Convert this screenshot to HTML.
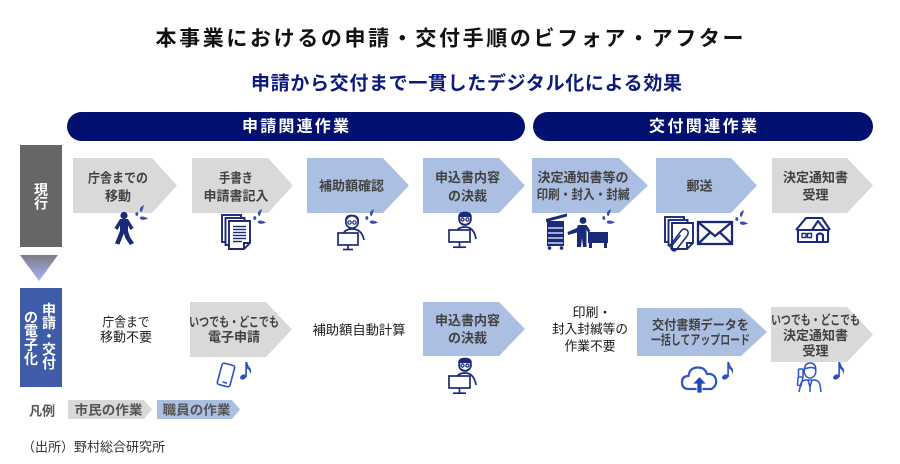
<!DOCTYPE html>
<html><head><meta charset="utf-8"><style>
html,body{margin:0;padding:0;background:#fff;}
svg{display:block;}
text{font-family:"Liberation Sans","Noto Sans CJK JP",sans-serif;}
</style></head><body>
<svg width="900" height="464" viewBox="0 0 900 464" xmlns="http://www.w3.org/2000/svg">
<defs>
<linearGradient id="tg" x1="0" y1="0" x2="0" y2="1"><stop offset="0" stop-color="#7c7c84"/><stop offset="1" stop-color="#a9b3fc"/></linearGradient>
</defs>
<rect width="900" height="464" fill="#fff"/>
<!-- titles -->
<text x="155.5" y="39" font-size="21" font-weight="700" fill="#111" dominant-baseline="central" textLength="588" lengthAdjust="spacing">本事業におけるの申請・交付手順のビフォア・アフター</text>
<text x="251" y="84" font-size="19" font-weight="700" fill="#0c1a7c" dominant-baseline="central" textLength="431" lengthAdjust="spacing">申請から交付まで一貫したデジタル化による効果</text>
<!-- pills -->
<rect x="67" y="112" width="458" height="29" rx="14.5" fill="#02106f"/>
<rect x="533" y="112" width="340" height="29" rx="14.5" fill="#02106f"/>
<text x="242" y="127" font-size="16" font-weight="700" fill="#fff" dominant-baseline="central" textLength="107" lengthAdjust="spacing">申請関連作業</text>
<text x="649" y="127" font-size="16" font-weight="700" fill="#fff" dominant-baseline="central" textLength="108" lengthAdjust="spacing">交付関連作業</text>
<!-- left labels -->
<rect x="20" y="145" width="42" height="102" fill="#666"/>
<g font-size="14" font-weight="700" fill="#fff" text-anchor="middle" dominant-baseline="central">
<text x="41" y="190">現</text><text x="41" y="203.5">行</text>
</g>
<polygon points="20,255 58,255 39,281" fill="url(#tg)"/>
<rect x="20" y="288" width="42" height="99" fill="#3e5ca8"/>
<g font-size="14" font-weight="700" fill="#fff" text-anchor="middle" dominant-baseline="central">
<text x="49" y="310">申</text><text x="49" y="323">請</text><text x="49" y="336.5">・</text><text x="49" y="349.5">交</text><text x="49" y="363.5">付</text>
<text x="31" y="317.5">の</text><text x="31" y="331">電</text><text x="31" y="345">子</text><text x="31" y="359">化</text>
</g>
<!-- arrows row 1 -->
<polygon points="73,158 152,158 177,185.5 152,213 73,213" fill="#d9d9d9"/>
<polygon points="192,158 268,158 293,185.5 268,213 192,213" fill="#d9d9d9"/>
<polygon points="307,158 383,158 409,185.5 383,213 307,213" fill="#abbfe2"/>
<polygon points="423,158 499,158 525,185.5 499,213 423,213" fill="#abbfe2"/>
<polygon points="532,158 619,158 648,185.5 619,213 532,213" fill="#abbfe2"/>
<polygon points="656,158 731,158 757,185.5 731,213 656,213" fill="#abbfe2"/>
<polygon points="772,158 847,158 873,185.5 847,213 772,213" fill="#d9d9d9"/>
<!-- arrows row 2 -->
<polygon points="190,302 266,302 292,329.5 266,357 190,357" fill="#d9d9d9"/>
<polygon points="423,302 499,302 525,329 499,356 423,356" fill="#abbfe2"/>
<polygon points="637,308 741,308 767,332 741,356 637,356" fill="#abbfe2"/>
<polygon points="771,307 847,307 873,334.5 847,362 771,362" fill="#d9d9d9"/>
<!-- arrow texts -->
<g font-size="13" font-weight="700" fill="#424242" text-anchor="middle" dominant-baseline="central">
<text x="118" y="178" textLength="60" lengthAdjust="spacingAndGlyphs">庁舎までの</text>
<text x="118" y="196">移動</text>
<text x="236" y="178" textLength="34" lengthAdjust="spacingAndGlyphs">手書き</text>
<text x="236" y="196">申請書記入</text>
<text x="351.5" y="186">補助額確認</text>
<text x="467.5" y="177.5">申込書内容</text>
<text x="467.5" y="196">の決裁</text>
<text x="583" y="177.5" textLength="91" lengthAdjust="spacingAndGlyphs">決定通知書等の</text>
<text x="583" y="194.5" textLength="93" lengthAdjust="spacingAndGlyphs">印刷・封入・封緘</text>
<text x="699.5" y="186">郵送</text>
<text x="815.5" y="177.5">決定通知書</text>
<text x="815.5" y="195">受理</text>
<text x="234" y="322" textLength="90" lengthAdjust="spacingAndGlyphs">いつでも・どこでも</text>
<text x="234" y="337">電子申請</text>
<text x="467.5" y="320.5">申込書内容</text>
<text x="467.5" y="338">の決裁</text>
<text x="700.5" y="325" textLength="97" lengthAdjust="spacingAndGlyphs">交付書類データを</text>
<text x="700.5" y="340" textLength="99" lengthAdjust="spacingAndGlyphs">一括してアップロード</text>
<text x="815.5" y="320" textLength="89" lengthAdjust="spacingAndGlyphs">いつでも・どこでも</text>
<text x="815.5" y="335.5">決定通知書</text>
<text x="815.5" y="351">受理</text>
</g>
<!-- plain texts row 2 -->
<g font-size="13" fill="#1a1a1a" text-anchor="middle" dominant-baseline="central">
<text x="126" y="322" textLength="47" lengthAdjust="spacingAndGlyphs">庁舎まで</text>
<text x="126" y="337">移動不要</text>
<text x="359" y="330" textLength="93" lengthAdjust="spacingAndGlyphs">補助額自動計算</text>
<text x="592" y="312.5">印刷・</text>
<text x="590" y="329" textLength="76" lengthAdjust="spacingAndGlyphs">封入封緘等の</text>
<text x="590" y="346" textLength="51" lengthAdjust="spacingAndGlyphs">作業不要</text>
</g>
<!-- legend -->
<text x="42" y="411" font-size="13" font-weight="700" fill="#555" text-anchor="middle" dominant-baseline="central">凡例</text>
<polygon points="68,400 144,400 152,409.5 144,419 68,419" fill="#d9d9d9"/>
<polygon points="157,400 232,400 240,409.5 232,419 157,419" fill="#abbfe2"/>
<g font-size="13" font-weight="700" fill="#555" text-anchor="middle" dominant-baseline="central">
<text x="108.5" y="410" textLength="68" lengthAdjust="spacingAndGlyphs">市民の作業</text>
<text x="196.5" y="410" textLength="68" lengthAdjust="spacingAndGlyphs">職員の作業</text>
</g>
<text x="22" y="447" font-size="13" fill="#333" dominant-baseline="central">（出所）野村総合研究所</text>

<!-- ICONS -->
<!-- sweat drops -->
<g fill="#3d4fa3">
<g transform="translate(135,205)"><path d="M5 6 Q4 2 9 0 Q8 4 7 6.5 Q6 7.5 5 6 Z"/><path d="M5 12 Q8 10.5 13 13.5 Q9 15.5 6 14.5 Q4.5 13.5 5 12 Z"/><ellipse cx="1.8" cy="9" rx="1.5" ry="1.9"/></g>
<g transform="translate(253,209)"><path d="M5 6 Q4 2 9 0 Q8 4 7 6.5 Q6 7.5 5 6 Z"/><path d="M5 12 Q8 10.5 13 13.5 Q9 15.5 6 14.5 Q4.5 13.5 5 12 Z"/><ellipse cx="1.8" cy="9" rx="1.5" ry="1.9"/></g>
<g transform="translate(365,209)"><path d="M5 6 Q4 2 9 0 Q8 4 7 6.5 Q6 7.5 5 6 Z"/><path d="M5 12 Q8 10.5 13 13.5 Q9 15.5 6 14.5 Q4.5 13.5 5 12 Z"/><ellipse cx="1.8" cy="9" rx="1.5" ry="1.9"/></g>
<g transform="translate(602,209)"><path d="M5 6 Q4 2 9 0 Q8 4 7 6.5 Q6 7.5 5 6 Z"/><path d="M5 12 Q8 10.5 13 13.5 Q9 15.5 6 14.5 Q4.5 13.5 5 12 Z"/><ellipse cx="1.8" cy="9" rx="1.5" ry="1.9"/></g>
<g transform="translate(735,210)"><path d="M5 6 Q4 2 9 0 Q8 4 7 6.5 Q6 7.5 5 6 Z"/><path d="M5 12 Q8 10.5 13 13.5 Q9 15.5 6 14.5 Q4.5 13.5 5 12 Z"/><ellipse cx="1.8" cy="9" rx="1.5" ry="1.9"/></g>
</g>
<!-- walking person -->
<g fill="#1b2a78">
<circle cx="124" cy="215.5" r="3.6"/>
<path d="M120 219 L128 219 L133.5 228 L130.5 230 L128 225.5 L128 232.5 L120 232.5 L120 225.5 L117.5 230 L114.5 228 Z"/>
<path d="M120 231 L125 231 L122 238 L119.5 244.5 L115 243.5 Z"/>
<path d="M123 231 L128 231 L130 237 L134 243 L130 245 L125.5 238.5 Z"/>
</g>
<!-- document stack -->
<g stroke="#1b2a78" stroke-width="1.9" fill="#fff">
<rect x="222" y="215" width="19" height="27"/>
<rect x="225.5" y="218" width="19" height="27"/>
<path d="M229 221 L250 221 L250 243 L244 249 L229 249 Z"/>
<path d="M244 249 L244 243 L250 243" fill="none"/>
</g>
<g stroke="#1b2a78" stroke-width="1.4">
<line x1="233" y1="226.5" x2="246" y2="226.5"/><line x1="233" y1="229.5" x2="246" y2="229.5"/><line x1="233" y1="232.5" x2="246" y2="232.5"/><line x1="233" y1="235.5" x2="246" y2="235.5"/><line x1="233" y1="238.5" x2="246" y2="238.5"/><line x1="233" y1="241.5" x2="242" y2="241.5"/>
</g>
<!-- woman at computer -->
<g stroke="#1b2a78" stroke-width="1.7" fill="#fff">
<path d="M342 238 Q343 229 352 229 Q362 229 364 240" fill="none"/>
<circle cx="352" cy="222" r="6.2"/>
<path d="M345.8 221 Q346 215 352 215.5 Q358 215.5 358.2 221" fill="none"/>
<circle cx="349.5" cy="222.5" r="1.7" stroke-width="1.2"/><circle cx="354.5" cy="222.5" r="1.7" stroke-width="1.2"/>
<rect x="338" y="233" width="20" height="12"/>
<line x1="348" y1="245" x2="348" y2="249"/><line x1="343" y1="249.5" x2="353" y2="249.5"/>
</g>
<!-- man at computer (row1 and row2) -->
<g stroke="#1b2a78" stroke-width="1.7" fill="#fff">
<path d="M455 236 Q456 227 465 227 Q474 227 476 239" fill="none"/>
<circle cx="465" cy="219" r="6"/>
<path d="M459 217 Q459 212.5 465 212.5 Q471 212.5 471 217" fill="#1b2a78"/>
<circle cx="462.5" cy="219.5" r="1.6" stroke-width="1.2"/><circle cx="467.5" cy="219.5" r="1.6" stroke-width="1.2"/>
<path d="M461.5 223 Q465 226 468.5 223" fill="none" stroke-width="1.3"/>
<rect x="449" y="230" width="21" height="12"/>
<line x1="459.5" y1="242" x2="459.5" y2="246.5"/><line x1="453" y1="247.2" x2="466" y2="247.2"/>
</g>
<g transform="translate(0,146)" stroke="#1b2a78" stroke-width="1.7" fill="#fff">
<path d="M455 236 Q456 227 465 227 Q474 227 476 239" fill="none"/>
<circle cx="465" cy="219" r="6"/>
<path d="M459 217 Q459 212.5 465 212.5 Q471 212.5 471 217" fill="#1b2a78"/>
<circle cx="462.5" cy="219.5" r="1.6" stroke-width="1.2"/><circle cx="467.5" cy="219.5" r="1.6" stroke-width="1.2"/>
<path d="M461.5 223 Q465 226 468.5 223" fill="none" stroke-width="1.3"/>
<rect x="449" y="230" width="21" height="12"/>
<line x1="459.5" y1="242" x2="459.5" y2="246.5"/><line x1="453" y1="247.2" x2="466" y2="247.2"/>
</g>
<!-- copier + person + table -->
<g fill="#1b2a78">
<path d="M546 219 L567 213.5 L567 216.5 L546 222 Z"/>
<rect x="547" y="221" width="17" height="25"/>
<circle cx="549.5" cy="248" r="1.8"/><circle cx="561.5" cy="248" r="1.8"/>
<circle cx="583" cy="220.5" r="3.4"/>
<path d="M578 225 L586.5 225 L590.5 231 L588 232.5 L586.5 229.5 L586.5 247 L583 247 L582 238 L581 247 L577 247 L577 232.5 L568 235 L567.5 232 L577 228 Z"/>
<rect x="588" y="232" width="20" height="11"/>
<rect x="589" y="243" width="3" height="5"/><rect x="604" y="243" width="3" height="5"/>
</g>
<g stroke="#fff" stroke-width="1.2">
<line x1="548" y1="228" x2="563" y2="228"/><line x1="548" y1="233" x2="563" y2="233"/><line x1="548" y1="238" x2="563" y2="238"/><line x1="548" y1="243" x2="563" y2="243"/>
</g>
<!-- docs with paperclip -->
<g stroke="#1b2a78" stroke-width="1.9" fill="#fff">
<rect x="665" y="217" width="19" height="25"/>
<rect x="668.5" y="220" width="19" height="25"/>
<path d="M672 223 L693 223 L693 243 L687 249 L672 249 Z"/>
<path d="M687 249 L687 243 L693 243" fill="none"/>
<path d="M669 247 L681 231 Q684 227.5 687 230 Q689.5 232.5 687 236 L676.5 249.5 Q674.5 252 672 250 Q670 248 672 245.5 L680.5 235" fill="none" stroke-width="1.5"/>
</g>
<!-- envelope -->
<g stroke="#1b2a78" stroke-width="2.3" fill="#fff">
<rect x="698" y="222" width="34" height="22"/>
<path d="M698 222 L715 236 L732 222" fill="none"/>
<path d="M698 244 L710 232.5 M732 244 L720 232.5" fill="none"/>
</g>
<!-- house -->
<g stroke="#1b2a78" stroke-width="2.1" fill="#fff" stroke-linejoin="round">
<path d="M796 230 L806 218 L822 218 L830 230"/>
<path d="M812 230 L818 221 L825 230" fill="none"/>
<rect x="798" y="230" width="30" height="12"/>
<path d="M817 242 L817 235 Q820 232 823 235 L823 242" fill="none"/>
<rect x="802" y="233.5" width="4" height="4" stroke-width="1.4"/><rect x="807.5" y="233.5" width="4" height="4" stroke-width="1.4"/>
</g>
<!-- phone row 2 -->
<g stroke="#2b55c8" stroke-width="1.6" fill="#fff">
<rect x="219.5" y="364" width="13" height="22" rx="2" transform="rotate(15 226 375)"/>
<line x1="222.5" y1="382" x2="227" y2="383.2"/>
</g>
<!-- cloud -->
<g stroke="#2b55c8" stroke-width="2.2" fill="#fff" stroke-linejoin="round">
<path d="M689 389 Q682 389 682 382.5 Q682 376 688.5 376 Q689.5 367.5 698 367.5 Q705 367.5 707 374 Q713 373 715.5 378 Q718 385 711.5 389 Z"/>
</g>
<g fill="#1b4ab0" stroke="#fff" stroke-width="0.8">
<path d="M692.5 384 L699.5 376.5 L706.5 384 L702 384 L702 393 L697 393 L697 384 Z"/>
</g>
<!-- person with phone -->
<g stroke="#2b55c8" stroke-width="1.5" fill="#fff" stroke-linejoin="round">
<path d="M799 392 L801 383 Q803 380 806 380 L814 380 Q819 380 820 385 L821 392" fill="none"/>
<ellipse cx="810" cy="371" rx="5.8" ry="7"/>
<path d="M804.5 369 Q805 363 810 363 Q815.5 363 815.8 369 Q812 366 804.5 369 Z"/>
<path d="M808 380 L810 387 L812 380 M810 387 L810 392" fill="none"/>
<rect x="798.5" y="369" width="4.5" height="8" rx="1"/>
<path d="M798 377 L797.5 385 L801 386 L803 377" fill="none"/>
</g>
<!-- music notes -->
<g fill="#2a4fc0">
<g transform="translate(240,362)"><ellipse cx="3.2" cy="15" rx="3.3" ry="2.4" transform="rotate(-25 3.2 15)"/><rect x="5.3" y="0" width="1.6" height="15"/><path d="M6 0 L7.2 0 Q8 4 10.5 6.5 Q12 9 10 12.5 Q10.8 8.5 7 6.5 Z"/></g>
<g transform="translate(722,362)"><ellipse cx="3.2" cy="15" rx="3.3" ry="2.4" transform="rotate(-25 3.2 15)"/><rect x="5.3" y="0" width="1.6" height="15"/><path d="M6 0 L7.2 0 Q8 4 10.5 6.5 Q12 9 10 12.5 Q10.8 8.5 7 6.5 Z"/></g>
<g transform="translate(833,362)"><ellipse cx="3.2" cy="15" rx="3.3" ry="2.4" transform="rotate(-25 3.2 15)"/><rect x="5.3" y="0" width="1.6" height="15"/><path d="M6 0 L7.2 0 Q8 4 10.5 6.5 Q12 9 10 12.5 Q10.8 8.5 7 6.5 Z"/></g>
</g>
</svg>
</body></html>
